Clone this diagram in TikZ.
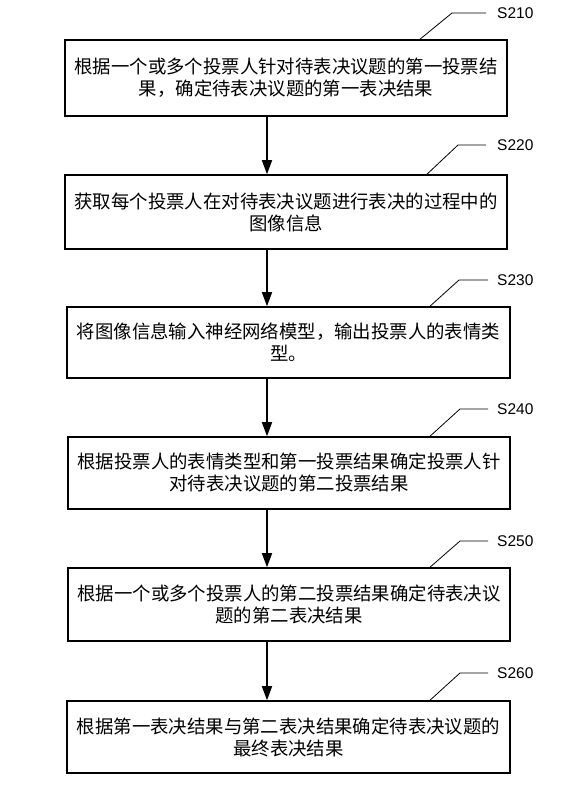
\documentclass[tikz,border=0pt]{standalone}
\usepackage{fontspec}
\setmainfont{Liberation Sans}
\newfontfamily\cjk{Noto Sans CJK SC}
\usetikzlibrary{arrows.meta}
\begin{document}
\begin{tikzpicture}[x=1pt,y=-1pt,
  stepbox/.style={draw, line width=1.6pt, align=center, inner sep=0pt,
    font=\cjk\fontsize{18.4}{22}\selectfont},
  flow/.style={line width=1.6pt, -{Triangle[length=14pt,width=10pt]}},
  leader/.style={line width=0.8pt},
  steplabel/.style={anchor=west, inner sep=0pt, font=\fontsize{15.5}{17}\selectfont}]
\useasboundingbox (0,0) rectangle (578,789);

\node[stepbox, minimum width=442pt, minimum height=76pt] (b1) at (286,78)
  {根据一个或多个投票人针对待表决议题的第一投票结\\果，确定待表决议题的第一表决结果};
\node[stepbox, minimum width=442pt, minimum height=74pt] (b2) at (286,212)
  {获取每个投票人在对待表决议题进行表决的过程中的\\图像信息};
\node[stepbox, minimum width=443pt, minimum height=71pt] (b3) at (288.5,342.5)
  {将图像信息输入神经网络模型，输出投票人的表情类\\型。};
\node[stepbox, minimum width=442pt, minimum height=72pt] (b4) at (289,473)
  {根据投票人的表情类型和第一投票结果确定投票人针\\对待表决议题的第二投票结果};
\node[stepbox, minimum width=442pt, minimum height=73pt] (b5) at (289,604.5)
  {根据一个或多个投票人的第二投票结果确定待表决议\\题的第二表决结果};
\node[stepbox, minimum width=443pt, minimum height=72pt] (b6) at (288.5,737)
  {根据第一表决结果与第二表决结果确定待表决议题的\\最终表决结果};

% arrows
\coordinate (ax) at (267,0);
\draw[flow] (b1.south -| ax) -- (b2.north -| ax);
\draw[flow] (b2.south -| ax) -- (b3.north -| ax);
\draw[flow] (b3.south -| ax) -- (b4.north -| ax);
\draw[flow] (b4.south -| ax) -- (b5.north -| ax);
\draw[flow] (b5.south -| ax) -- (b6.north -| ax);

% step labels
\node[steplabel] (s1) at (497,13) {S210};
\node[steplabel] (s2) at (497,145) {S220};
\node[steplabel] (s3) at (497,280) {S230};
\node[steplabel] (s4) at (497,409) {S240};
\node[steplabel] (s5) at (497,541) {S250};
\node[steplabel] (s6) at (497,673) {S260};

% leaders
\coordinate (f1) at (420,0); \coordinate (k1) at (452,13);
\coordinate (f2) at (427,0); \coordinate (k2) at (458,145);
\coordinate (f3) at (430,0); \coordinate (k3) at (459,280);
\coordinate (f4) at (430,0); \coordinate (k4) at (460,409);
\coordinate (f5) at (430,0); \coordinate (k5) at (460,541);
\coordinate (f6) at (430,0); \coordinate (k6) at (460,673);
\draw[leader] (b1.north -| f1) -- (k1) -- ([xshift=-11pt]s1.west);
\draw[leader] (b2.north -| f2) -- (k2) -- ([xshift=-11pt]s2.west);
\draw[leader] (b3.north -| f3) -- (k3) -- ([xshift=-9pt]s3.west);
\draw[leader] (b4.north -| f4) -- (k4) -- ([xshift=-9pt]s4.west);
\draw[leader] (b5.north -| f5) -- (k5) -- ([xshift=-9pt]s5.west);
\draw[leader] (b6.north -| f6) -- (k6) -- ([xshift=-9pt]s6.west);
\end{tikzpicture}
\end{document}
